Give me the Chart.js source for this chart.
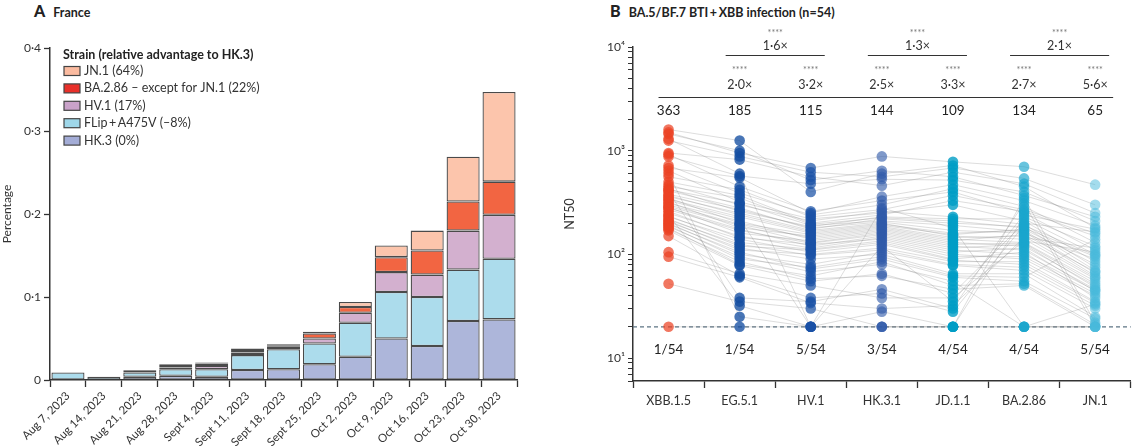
<!DOCTYPE html>
<html>
<head>
<meta charset="utf-8">
<script src="https://cdn.jsdelivr.net/npm/chart.js@4.4.0/dist/chart.umd.min.js"></script>
<style>
  body { margin: 0; background: #fff; width: 1136px; height: 447px; overflow: hidden; position: relative; font-family: Lato, sans-serif; }
  #panelA { position: absolute; left: 0; top: 0; }
  #panelB { position: absolute; left: 560px; top: 0; }
  .ttl { position: absolute; top: 1px; font-size: 12.5px; font-weight: bold; color: #222; white-space: nowrap; }
  .ttl b { font-size: 16px; margin-right: 8px; }
</style>
</head>
<body>
<div class="ttl" style="left:34px"><b>A</b>France</div>
<div class="ttl" style="left:610px"><b>B</b>BA.5/BF.7 BTI&#8201;+&#8201;XBB infection (n=54)</div>
<canvas id="panelA" width="560" height="447"></canvas>
<canvas id="panelB" width="576" height="447"></canvas>
<script>
// panel A - weekly share of strains in France
const weeks = ['Aug 7, 2023', 'Aug 14, 2023', 'Aug 21, 2023', 'Aug 28, 2023', 'Sept 4, 2023', 'Sept 11, 2023',
  'Sept 18, 2023', 'Sept 25, 2023', 'Oct 2, 2023', 'Oct 9, 2023', 'Oct 16, 2023', 'Oct 23, 2023', 'Oct 30, 2023'];
const shareHK3   = [0, 0, 0.004, 0.005, 0.004, 0.012, 0.013, 0.019, 0.028, 0.050, 0.041, 0.071, 0.073];
const shareFLip  = [0.009, 0.004, 0.005, 0.008, 0.009, 0.018, 0.024, 0.025, 0.041, 0.056, 0.059, 0.062, 0.073];
const shareHV1   = [0, 0, 0.002, 0.002, 0.004, 0.003, 0.003, 0.006, 0.012, 0.024, 0.027, 0.047, 0.053];
const shareBA286 = [0, 0, 0.001, 0.003, 0.003, 0.003, 0.002, 0.006, 0.007, 0.018, 0.029, 0.035, 0.040];
const shareJN1   = [0, 0, 0, 0.001, 0.001, 0.002, 0.001, 0.002, 0.006, 0.014, 0.024, 0.054, 0.108];
const strainLabels = ['HK.3 (0%)', 'FLip\u2009+\u2009A475V (–8%)', 'HV.1 (17%)', 'BA.2.86 – except for JN.1 (22%)', 'JN.1 (64%)'];
const strainColors = ['#adb6da', '#acdcec', '#d3b0cf', '#f26542', '#fcc5ac'];
const legendColors = ['#a3acd6', '#9fd7e9', '#c9a2c9', '#e8302a', '#fbbba0'];

// panel B - NT50 per participant (index = participant)
const variants = ['XBB.1.5', 'EG.5.1', 'HV.1', 'HK.3.1', 'JD.1.1', 'BA.2.86', 'JN.1'];
const geoMeans = ['363', '185', '115', '144', '109', '134', '65'];
const belowLod = ['1/54', '1/54', '5/54', '3/54', '4/54', '4/54', '5/54'];
const foldVsXbb = ['', '2·0×', '3·2×', '2·5×', '3·3×', '2·7×', '5·6×'];
const pairFold = ['1·6×', '1·3×', '2·1×'];
const lod = 20;
const ntXBB15 = [1600,1500,1450,1300,1250,950,920,880,720,680,640,600,560,500,470,450,430,420,410,400,380,370,360,350,340,330,320,310,300,290,285,280,270,260,250,240,235,230,220,215,210,205,200,195,190,185,180,175,170,150,105,95,52,20];
const ntEG51  = [1250,950,1000,600,880,820,450,570,390,550,320,25,420,370,300,350,260,310,280,38,270,240,250,200,230,220,180,210,195,190,160,175,170,145,150,32,130,140,120,125,110,115,100,105,90,95,80,85,78,62,65,60,35,20];
const ntHV1   = [400,680,520,20,620,560,260,480,240,250,220,20,230,200,210,195,185,190,175,35,180,165,170,155,160,20,150,140,145,130,135,120,128,125,115,20,112,105,110,98,100,90,80,72,75,68,62,58,55,38,50,34,30,20];
const ntHK31  = [600,880,640,280,560,460,330,530,300,360,250,20,270,240,260,225,230,210,220,46,205,195,200,185,190,120,180,170,175,160,165,150,155,140,145,28,135,125,130,110,115,100,105,90,95,80,85,62,65,42,38,30,20,20];
const ntJD11  = [720,780,560,180,680,620,400,520,430,470,300,20,370,330,230,210,220,190,200,30,170,160,150,145,155,35,140,130,135,120,125,110,115,100,105,20,95,88,90,80,85,65,78,60,62,55,50,46,42,28,38,32,20,20];
const ntBA286 = [450,700,370,20,540,480,250,400,290,330,210,350,270,260,195,180,220,165,185,310,160,170,140,150,175,240,130,120,155,110,128,100,125,90,115,230,95,80,105,75,85,65,70,55,60,20,52,50,200,190,135,145,20,20];
const ntJN1   = [180,470,230,20,300,250,110,210,130,190,85,22,160,150,75,95,100,62,70,20,90,66,58,60,80,175,55,50,68,46,52,45,48,40,44,120,42,34,38,32,35,25,30,24,140,20,21,20,165,98,105,115,33,20];
const dotColors = ['rgba(236,66,36,0.72)', 'rgba(20,78,162,0.78)', 'rgba(26,82,166,0.72)', 'rgba(48,90,170,0.62)',
  'rgba(0,158,198,0.8)', 'rgba(26,165,205,0.66)', 'rgba(72,186,220,0.5)'];

const txt = '#333';
const font = 'Lato, sans-serif';

// ---------- panel A ----------
const legendA = {
  id: 'legendA',
  afterDraw(chart) {
    const ctx = chart.ctx;
    ctx.save();
    ctx.textBaseline = 'middle';
    ctx.fillStyle = '#222';
    ctx.font = 'bold 12.5px ' + font;
    ctx.fillText('Strain (relative advantage to HK.3)', 63, 55);
    ctx.font = '12.5px ' + font;
    for (let k = 0; k < strainLabels.length; k++) {
      const i = strainLabels.length - 1 - k;
      const y = 71 + k * 17.4;
      ctx.fillStyle = legendColors[i];
      ctx.fillRect(64, y - 4.5, 16, 9);
      ctx.strokeStyle = '#444';
      ctx.lineWidth = 1.2;
      ctx.strokeRect(64, y - 4.5, 16, 9);
      ctx.fillStyle = txt;
      ctx.fillText(strainLabels[i], 84, y);
    }
    ctx.restore();
  }
};

const sharesA = [shareHK3, shareFLip, shareHV1, shareBA286, shareJN1];
new Chart(document.getElementById('panelA'), {
  type: 'bar',
  data: {
    labels: weeks,
    datasets: sharesA.map((d, i) => ({
      label: strainLabels[i],
      data: d,
      backgroundColor: strainColors[i],
      borderColor: '#4a4a4a',
      borderWidth: 1.3,
      borderSkipped: false,
      barPercentage: 0.92,
      categoryPercentage: 1
    }))
  },
  options: {
    responsive: false,
    animation: false,
    layout: { padding: { top: 48, right: 43, left: 0, bottom: 0 } },
    plugins: { legend: { display: false }, tooltip: { enabled: false } },
    scales: {
      x: {
        stacked: true,
        afterFit(s) { s.height = 67; },
        grid: { offset: true, drawOnChartArea: false, tickLength: 7, tickColor: '#333', tickWidth: 1.3 },
        border: { color: '#333', width: 1.5 },
        ticks: { color: txt, font: { family: font, size: 11.5 }, minRotation: 45, maxRotation: 45, autoSkip: false, padding: 2 }
      },
      y: {
        stacked: true,
        min: 0, max: 0.4,
        afterFit(s) { s.width = 50; },
        grid: { drawOnChartArea: false, tickLength: 6, tickColor: '#333', tickWidth: 1.3 },
        border: { color: '#333', width: 1.5 },
        ticks: {
          stepSize: 0.1, color: txt, padding: 3, font: { family: font, size: 12 },
          callback: v => v === 0 ? '0' : v.toFixed(1).replace('.', '·')
        },
        title: { display: true, text: 'Percentage', color: txt, font: { family: font, size: 12 }, padding: 0 }
      }
    }
  },
  plugins: [legendA]
});

// ---------- panel B ----------
const yTickValues = [];
[1, 10, 100, 1000].forEach(dec => {
  for (let m = 1; m <= 9; m++) if (m * dec >= 6) yTickValues.push(m * dec);
});
yTickValues.push(10000);
const powerLabels = { 10: '10¹', 100: '10²', 1000: '10³', 10000: '10⁴' };

const annotB = {
  id: 'annotB',
  beforeDatasetsDraw(chart) {
    const { ctx, chartArea, scales } = chart;
    const y = scales.y.getPixelForValue(lod);
    ctx.save();
    ctx.strokeStyle = '#5d7484';
    ctx.lineWidth = 1.2;
    ctx.setLineDash([4, 3]);
    ctx.beginPath();
    ctx.moveTo(chartArea.left, y);
    ctx.lineTo(chartArea.right, y);
    ctx.stroke();
    ctx.restore();
  },
  afterDraw(chart) {
    const { ctx, scales } = chart;
    const xp = i => scales.x.getPixelForValue(i);
    ctx.save();
    ctx.textAlign = 'center';
    ctx.textBaseline = 'middle';
    ctx.strokeStyle = '#333';
    ctx.lineWidth = 1.2;
    pairFold.forEach((t, k) => {
      const a = xp(1 + 2 * k), b = xp(2 + 2 * k);
      ctx.beginPath();
      ctx.moveTo(a - 14, 55.5);
      ctx.lineTo(b + 14, 55.5);
      ctx.stroke();
      ctx.fillStyle = '#777';
      ctx.font = '9px ' + font;
      ctx.fillText('****', (a + b) / 2, 33);
      ctx.fillStyle = txt;
      ctx.font = '12.5px ' + font;
      ctx.fillText(t, (a + b) / 2, 46);
    });
    foldVsXbb.forEach((t, i) => {
      if (!t) return;
      ctx.fillStyle = '#777';
      ctx.font = '9px ' + font;
      ctx.fillText('****', xp(i), 70);
      ctx.fillStyle = txt;
      ctx.font = '12.5px ' + font;
      ctx.fillText(t, xp(i), 85);
    });
    ctx.beginPath();
    ctx.moveTo(xp(0) - 10, 97.5);
    ctx.lineTo(xp(6) + 18, 97.5);
    ctx.stroke();
    ctx.font = '13.5px ' + font;
    ctx.fillStyle = '#222';
    geoMeans.forEach((t, i) => ctx.fillText(t, xp(i), 111));
    belowLod.forEach((t, i) => ctx.fillText(t, xp(i), 350));
    ctx.restore();
  }
};

const columns = [ntXBB15, ntEG51, ntHV1, ntHK31, ntJD11, ntBA286, ntJN1];
const dotSets = columns.map((c, j) => ({
  label: variants[j],
  data: c.map(v => ({ x: variants[j], y: v })),
  showLine: false,
  pointRadius: 5.3,
  pointBorderWidth: 0,
  pointBackgroundColor: dotColors[j],
  order: 1
}));
const lineSets = ntXBB15.map((_, i) => ({
  label: 'p' + (i + 1),
  data: columns.map(c => c[i]),
  borderColor: 'rgba(130,130,130,0.27)',
  borderWidth: 1,
  pointRadius: 0,
  order: 2
}));

new Chart(document.getElementById('panelB'), {
  type: 'line',
  data: { labels: variants, datasets: dotSets.concat(lineSets) },
  options: {
    responsive: false,
    animation: false,
    layout: { padding: { top: 47, right: 1, left: 0, bottom: 0 } },
    plugins: { legend: { display: false }, tooltip: { enabled: false } },
    scales: {
      x: {
        type: 'category',
        offset: true,
        afterFit(s) { s.height = 66; },
        grid: { offset: true, drawOnChartArea: false, tickLength: 7, tickColor: '#333', tickWidth: 1.3 },
        border: { color: '#333', width: 1.5 },
        ticks: { color: txt, font: { family: font, size: 12.5 }, padding: 5 }
      },
      y: {
        type: 'logarithmic',
        min: 6, max: 10000,
        afterFit(s) { s.width = 73; },
        afterBuildTicks(s) { s.ticks = yTickValues.map(v => ({ value: v })); },
        grid: { drawOnChartArea: false, tickLength: 5, tickColor: '#333', tickWidth: 1 },
        border: { color: '#333', width: 1.5 },
        ticks: { autoSkip: false, color: txt, padding: 3, font: { family: font, size: 12 }, callback: v => powerLabels[v] || '' },
        title: { display: true, text: 'NT50', color: txt, font: { family: font, size: 12.5 }, padding: 2 }
      }
    }
  },
  plugins: [annotB]
});
</script>
</body>
</html>
